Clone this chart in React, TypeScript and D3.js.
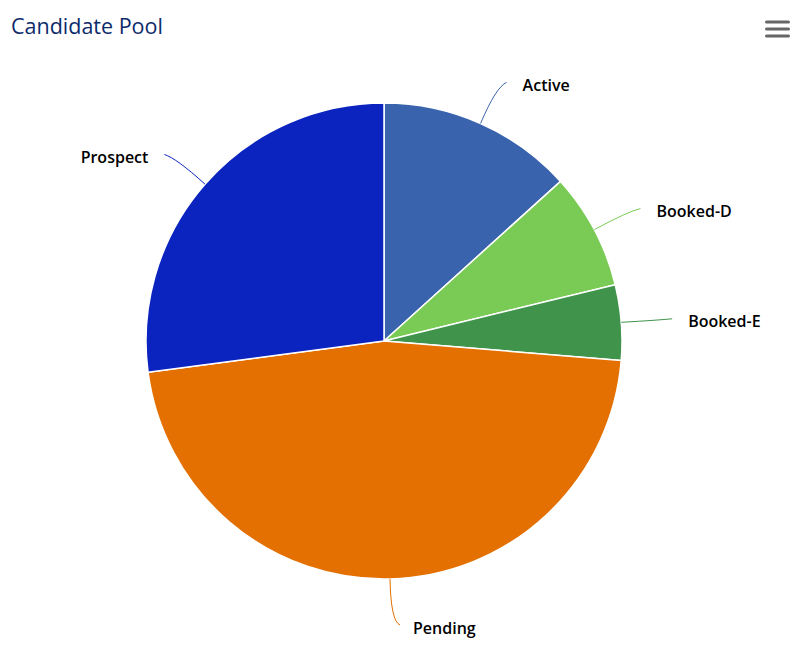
import React from "react";
import * as d3 from "d3";

const categories = ["Active", "Booked-D", "Booked-E", "Pending", "Prospect"];
const values = [13.3, 7.9, 5.1, 46.6, 27.1];
const colors = ["#3a63ad", "#7acb56", "#40934b", "#e37000", "#0b24bf"];

const W = 806;
const H = 664;
const cx = 384;
const cy = 341;
const R = 238;
const LR = 280;

export default function App() {
  const data = categories.map((c, i) => ({ name: c, value: values[i], color: colors[i] }));
  const pie = d3.pie<any>().value((d) => d.value).sort(null);
  const arcs = pie(data);
  const arcGen = d3.arc<any>().innerRadius(0).outerRadius(R);

  return (
    <svg width={W} height={H} style={{ position: "absolute", left: 0, top: 0, fontFamily: "'Open Sans', sans-serif" }}>
      <rect width={W} height={H} fill="#ffffff" />
      <text x={11} y={34} fontSize={21.5} fill="#0d2b6b">Candidate Pool</text>
      <g fill="#666666">
        {[22, 29, 36].map((y) => (
          <rect key={y} x={765} y={y - 1.5} width={25} height={3} rx={1.5} />
        ))}
      </g>
      <g transform={`translate(${cx},${cy})`}>
        {arcs.map((a, i) => (
          <path key={i} d={arcGen(a) as string} fill={a.data.color} stroke="#ffffff" strokeWidth={1.5} strokeLinejoin="round" />
        ))}
      </g>
      {arcs.map((a, i) => {
        const mid = (a.startAngle + a.endAngle) / 2;
        const s = Math.sin(mid);
        const c = -Math.cos(mid);
        const right = s >= 0;
        const ex = cx + R * s;
        const ey = cy + R * c;
        const yAdj = (c > 0 ? 7 * c : 0) + 3 * (1 - Math.abs(c));
        const px = cx + LR * s;
        const py = cy + LR * c + yAdj;
        const lx = px + (right ? 9 : -9);
        const ly = py - 3;
        const bx = cx + (LR - 4) * s;
        const by = cy + (LR - 4) * c + yAdj - 2;
        const path = `M${ex},${ey} Q${bx},${by} ${lx},${ly}`;
        const tOff = 25 - 3 * Math.max(0, c);
        return (
          <g key={i}>
            <path d={path} fill="none" stroke={a.data.color} strokeWidth={1} />
            <text
              x={px + (right ? tOff : -tOff)}
              y={py}
              dy="0.35em"
              textAnchor={right ? "start" : "end"}
              fontSize={16}
              fontWeight={600}
              fill="#000000"
            >
              {a.data.name}
            </text>
          </g>
        );
      })}
    </svg>
  );
}
